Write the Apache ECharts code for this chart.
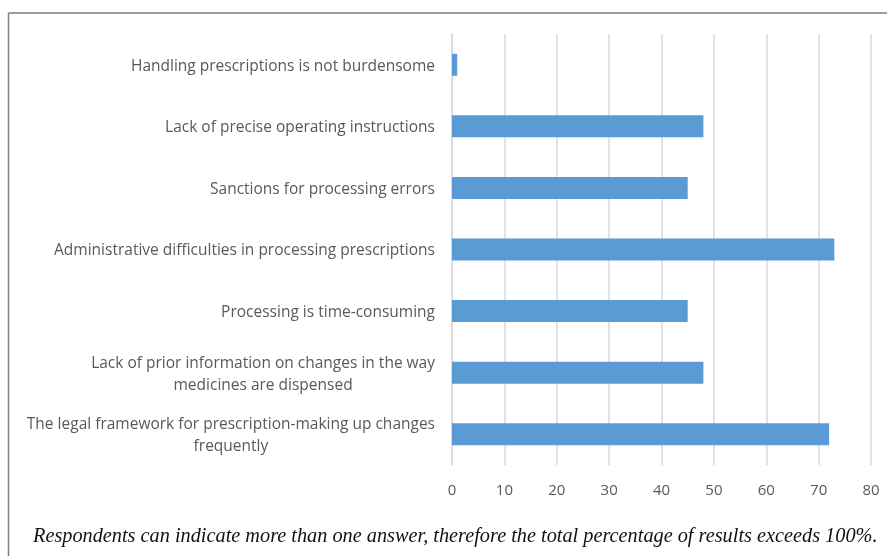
<!DOCTYPE html>
<html>
<head>
<meta charset="utf-8">
<script src="https://cdn.jsdelivr.net/npm/echarts@6/dist/echarts.min.js"></script>
<style>html,body{margin:0;padding:0;background:#fff}#c{width:887px;height:556px}</style>
</head>
<body>
<div id="c"></div>
<script>
const categories = [
  "Handling prescriptions is not burdensome",
  "Lack of precise operating instructions",
  "Sanctions for processing errors",
  "Administrative difficulties in processing prescriptions",
  "Processing is time-consuming",
  "Lack of prior information on changes in the way\nmedicines are dispensed",
  "The legal framework for prescription-making up changes\nfrequently"
];
const values = [1, 48, 45, 73, 45, 48, 72];
const xTicks = [0, 10, 20, 30, 40, 50, 60, 70, 80];
const caption = "Respondents can indicate more than one answer, therefore the total percentage of results exceeds 100%.";

const chart = echarts.init(document.getElementById('c'), null, {renderer: 'canvas'});
chart.setOption({
  animation: false,
  backgroundColor: '#fff',
  grid: {left: 452, right: 16, top: 34, bottom: 91},
  xAxis: {
    type: 'value', min: xTicks[0], max: xTicks[xTicks.length - 1], interval: 10,
    axisLine: {show: false}, axisTick: {show: false},
    splitLine: {lineStyle: {color: '#d9d9d9', width: 1.5}},
    axisLabel: {color: '#595959', fontFamily: 'Open Sans', fontSize: 15, margin: 18}
  },
  yAxis: {
    type: 'category', data: categories, inverse: true,
    axisLine: {show: true, lineStyle: {color: '#d9d9d9', width: 1.5}},
    axisTick: {show: false},
    axisLabel: {
      color: '#595959', fontFamily: 'Open Sans', fontSize: 15.5, margin: 17, lineHeight: 22,
      padding: [3, 0, 0, 0],
      formatter: function (v) { return v.split('\n').map(s => '{c|' + s + '}').join('\n'); },
      rich: {c: {align: 'center', color: '#595959', fontFamily: 'Open Sans', fontSize: 15.5, lineHeight: 22}}
    }
  },
  series: [{
    type: 'bar', data: values, barWidth: 22,
    itemStyle: {color: '#5b9bd5'}
  }],
  graphic: [
    {type: 'line', shape: {x1: 8.5, y1: 13, x2: 887, y2: 13}, style: {stroke: '#7f7f7f', lineWidth: 1.5}},
    {type: 'line', shape: {x1: 8.5, y1: 13, x2: 8.5, y2: 556}, style: {stroke: '#7f7f7f', lineWidth: 1.5}},
    {type: 'text', left: 33, top: 527, style: {text: caption, font: 'italic 20.3px "Liberation Serif"', fill: '#111'}}
  ]
});
</script>
</body>
</html>
